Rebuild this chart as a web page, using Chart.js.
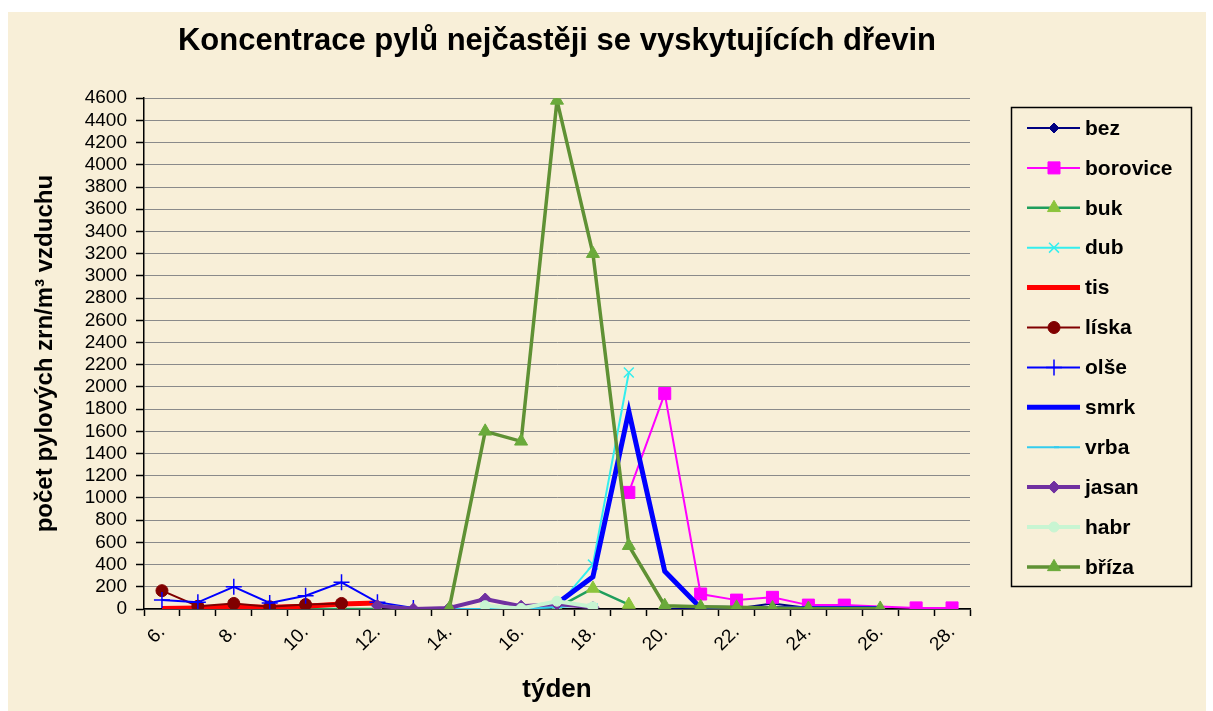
<!DOCTYPE html>
<html><head><meta charset="utf-8">
<script src="https://cdn.jsdelivr.net/npm/chart.js@4"></script>
<style>html,body{margin:0;padding:0;background:#fff;overflow:hidden}</style>
</head><body>
<canvas id="c" width="1213" height="711"></canvas>
<script>
// ---- data ----
const weeks = ['6.','7.','8.','9.','10.','11.','12.','13.','14.','15.','16.','17.','18.','19.','20.','21.','22.','23.','24.','25.','26.','27.','28.'];
const N = null;
//               6   7   8   9  10  11  12  13  14   15   16   17   18   19   20   21  22  23  24  25  26  27  28
const bez      = [N,  N,  N,  N,  N,  N,  N,  N,  N,   N,   N,   N,   N,   N,   0,   5,  5, 50, 10,  0,  N,  N,  N];
const borovice = [N,  N,  N,  N,  N,  N,  N,  N,  N,   N,   N,   N,   N, 1050,1940, 135, 80,105, 35, 35,  N, 10, 10];
const buk      = [N,  N,  N,  N,  0,  0,  0,  N,  N,   N,   N,  10, 185,  40,   N,   N,  N,  N,  N,  N,  N,  N,  N];
const dub      = [N,  N,  N,  N,  N,  N,  N,  N,  N,   N,   0,  20, 400,2130,   N,   N,  N,  N,  N,  N,  N,  N,  N];
const tis      = [5, 10, 20, 15, 25, 45, 55,  N,  N,   N,   N,   N,   N,   N,   N,   N,  N,  N,  N,  N,  N,  N,  N];
const liska    = [165,25, 50, 20, 40, 50,  N,  N,  N,   N,   N,   N,   N,   N,   N,   N,  N,  N,  N,  N,  N,  N,  N];
const olse     = [80, 60,200, 55,120,240, 60, 10,  N,   N,   N,   N,   N,   N,   N,   N,  N,  N,  N,  N,  N,  N,  N];
const smrk     = [N,  N,  N,  N,  N,  N,  N,  N,  N,   N,   N,  50, 290,1780, 340,  10,  5,  5,  5,  5,  5,  N,  N];
const vrba     = [N,  N,  N,  N,  N,  N, 40,  5,  0,   0,   5,  15,  40,   N,   N,   N,  N,  N,  N,  N,  N,  N,  N];
const jasan    = [N,  N,  N,  N,  N,  N, 30,  0, 10,  90,  25,  45,  15,   N,   N,   N,  N,  N,  N,  N,  N,  N,  N];
const habr     = [N,  N,  N,  N,  N,  N,  N,  N,  N,  30,   5,  70,  20,   N,   N,   N,  N,  N,  N,  N,  N,  N,  N];
const briza    = [N,  N,  N,  N,  N,  N,  N,  N,  5,1600,1510,4580,3200, 570,  30,  20, 15, 10,  5,  N,  5,  N,  N];
const yTicks = {min: 0, max: 4600, step: 200};

const seriesNames = ['bez','borovice','buk','dub','tis','líska','olše','smrk','vrba','jasan','habr','bříza'];
const seriesData  = [bez, borovice, buk, dub, tis, liska, olse, smrk, vrba, jasan, habr, briza];

// ---- styles ----
const styles = [
  {line:'#000080', w:2,   ps:'rectRot',  r:5,   bg:'#000080', bc:'#000080', bw:1},
  {line:'#ff00ff', w:2,   ps:'rect',     r:8.5, bg:'#ff00ff', bc:'#ff00ff', bw:1, gap:true},
  {line:'#1f9e5c', w:2.5, ps:'triangle', r:7.5, bg:'#8cc43c', bc:'#8cc43c', bw:1},
  {line:'#33eeee', w:2,   ps:'crossRot', r:7,   bg:'#33eeee', bc:'#33eeee', bw:1.5},
  {line:'#ff0000', w:5,   ps:false,      r:0,   bg:'#ff0000', bc:'#ff0000', bw:1},
  {line:'#800000', w:2,   ps:'circle',   r:6,   bg:'#800000', bc:'#800000', bw:1},
  {line:'#0000ff', w:2,   ps:'cross',    r:8,   bg:'#0000ff', bc:'#0000ff', bw:1.5},
  {line:'#0000ff', w:5,   ps:false,      r:0,   bg:'#0000ff', bc:'#0000ff', bw:1},
  {line:'#33ccee', w:2,   ps:'dash',     r:5,   bg:'#33ccee', bc:'#33ccee', bw:2},
  {line:'#7030a0', w:4,   ps:'rectRot',  r:6,   bg:'#7030a0', bc:'#7030a0', bw:1},
  {line:'#c8f5d2', w:4,   ps:'circle',   r:5,   bg:'#c8f5d2', bc:'#c8f5d2', bw:1},
  {line:'#5f9134', w:3.5, ps:'triangle', r:7.5, bg:'#6aaa3a', bc:'#6aaa3a', bw:1, gap:true}
];

const datasets = seriesNames.map((name, i) => {
  const s = styles[i];
  return {
    label: name,
    data: seriesData[i],
    borderColor: s.line,
    backgroundColor: s.line,
    borderWidth: s.w,
    pointStyle: s.ps,
    pointRadius: s.r,
    pointHoverRadius: s.r,
    pointBackgroundColor: s.bg,
    pointBorderColor: s.bc,
    pointBorderWidth: s.bw,
    tension: 0,
    fill: false,
    spanGaps: !!s.gap,
    order: seriesNames.length - 1 - i
  };
});

const FONT = '"Liberation Sans", Arial, sans-serif';

const bgPlugin = {
  id: 'bg',
  beforeDraw(chart) {
    const ctx = chart.ctx;
    ctx.save();
    ctx.fillStyle = '#ffffff';
    ctx.fillRect(0, 0, chart.width, chart.height);
    ctx.fillStyle = '#f8efd8';
    ctx.fillRect(8, 12, 1198, 699);
    ctx.restore();
  }
};

const legendPlugin = {
  id: 'boxLegend',
  afterDraw(chart) {
    const ctx = chart.ctx;
    ctx.save();
    ctx.strokeStyle = '#000';
    ctx.lineWidth = 1.5;
    ctx.strokeRect(1011.5, 107.5, 180, 479);
    chart.data.datasets.forEach((ds, i) => {
      const y = 128 + i * 39.9;
      ctx.strokeStyle = ds.borderColor;
      ctx.lineWidth = ds.borderWidth;
      ctx.beginPath(); ctx.moveTo(1027, y); ctx.lineTo(1080, y); ctx.stroke();
      if (ds.pointStyle && ds.pointRadius > 0) {
        ctx.fillStyle = ds.pointBackgroundColor;
        ctx.strokeStyle = ds.pointBorderColor;
        ctx.lineWidth = ds.pointBorderWidth;
        Chart.helpers.drawPoint(ctx, {pointStyle: ds.pointStyle, radius: ds.pointRadius, rotation: 0, borderWidth: ds.pointBorderWidth}, 1054, y);
      }
      ctx.fillStyle = '#000';
      ctx.font = 'bold 21px ' + FONT;
      ctx.textBaseline = 'middle';
      ctx.textAlign = 'left';
      ctx.fillText(ds.label, 1085, y + 1);
    });
    ctx.restore();
  }
};

new Chart(document.getElementById('c'), {
  type: 'line',
  data: { labels: weeks, datasets },
  plugins: [bgPlugin, legendPlugin],
  options: {
    responsive: false,
    animation: false,
    devicePixelRatio: 1,
    layout: { padding: { left: 0, right: 243, top: 0, bottom: 4 } },
    plugins: {
      legend: { display: false },
      tooltip: { enabled: false },
      title: {
        display: true,
        fullSize: false,
        text: 'Koncentrace pylů nejčastěji se vyskytujících dřevin',
        color: '#000',
        font: { family: FONT, size: 31, weight: 'bold' },
        padding: { top: 23, bottom: 38 }
      }
    },
    scales: {
      x: {
        type: 'category',
        offset: true,
        grid: { display: true, drawOnChartArea: false, offset: true, tickLength: 7, tickColor: '#000', tickWidth: 1.5 },
        border: { color: '#000', width: 1.5 },
        ticks: {
          autoSkip: false, maxRotation: 45, minRotation: 45, color: '#000', padding: 5,
          font: { family: FONT, size: 19 },
          callback: (v, i) => (i % 2 === 0 ? weeks[i] : '')
        },
        title: { display: true, text: 'týden', color: '#000', font: { family: FONT, size: 26, weight: 'bold' }, padding: { top: 0, bottom: 2 } },
        afterFit: (s) => { s.height = 711 - 609 - 4; }
      },
      y: {
        min: yTicks.min, max: yTicks.max,
        grid: { color: '#8a8a8a', lineWidth: 1, tickLength: 8, tickColor: '#000', tickWidth: 1.5 },
        border: { color: '#000', width: 1.5 },
        ticks: { stepSize: yTicks.step, autoSkip: false, color: '#000', padding: 9, font: { family: FONT, size: 19 }, callback: (v) => String(v) },
        title: { display: true, text: 'počet pylových zrn/m³ vzduchu', color: '#000', font: { family: FONT, size: 24, weight: 'bold' }, padding: { top: 31, bottom: 0 } },
        afterFit: (s) => { s.width = 144; }
      }
    }
  }
});
</script>
</body></html>
